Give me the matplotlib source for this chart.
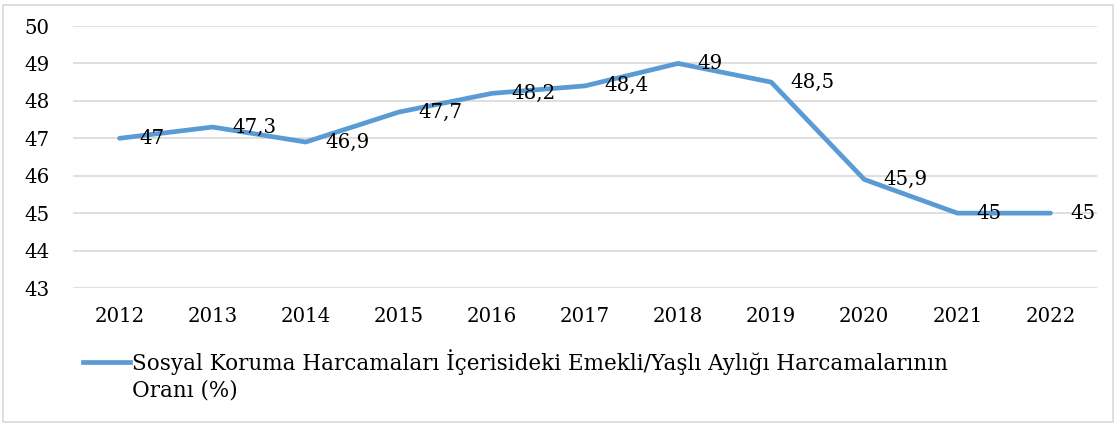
import matplotlib.pyplot as plt
from matplotlib.patches import Rectangle

# --- Data ---
YEARS = ["2012", "2013", "2014", "2015", "2016", "2017", "2018", "2019", "2020", "2021", "2022"]
VALUES = [47, 47.3, 46.9, 47.7, 48.2, 48.4, 49, 48.5, 45.9, 45, 45]
SERIES_NAME = ("Sosyal Koruma Harcamaları İçerisideki Emekli/Yaşlı Aylığı Harcamalarının\n"
               "Oranı (%)")

LINE_COLOR = "#5B9BD5"
FONT = "DejaVu Serif"
FS = 14.2

plt.rcParams["font.family"] = [FONT]

fig = plt.figure(figsize=(11.19, 4.26), dpi=100)
ax = fig.add_axes([73 / 1119, 1 - 288 / 426, (1097 - 73) / 1119, (288 - 26) / 426])

x = list(range(len(YEARS)))
ax.plot(x, VALUES, color=LINE_COLOR, lw=3.4, solid_capstyle="round",
        solid_joinstyle="round", zorder=3)

for xi, v in zip(x, VALUES):
    label = f"{v:g}".replace(".", ",")
    ax.annotate(label, (xi, v), xytext=(14, 0), textcoords="offset points",
                ha="left", va="center", fontsize=FS, color="#000000", zorder=4)

ax.set_xlim(-0.5, len(YEARS) - 0.5)
ax.set_ylim(43, 50)
ax.set_yticks(range(43, 51))
ax.set_xticks(x)
ax.set_xticklabels(YEARS)
ax.tick_params(axis="both", length=0, labelsize=FS, colors="#000000")
ax.tick_params(axis="y", pad=17)
ax.tick_params(axis="x", pad=14)
ax.grid(axis="y", color="#D9D9D9", lw=1.2)
ax.set_axisbelow(True)
for s in ax.spines.values():
    s.set_visible(False)

# legend line + text
fig.lines.append(plt.Line2D([83 / 1119, 130 / 1119], [1 - 362 / 426, 1 - 362 / 426],
                            color=LINE_COLOR, lw=3.4, transform=fig.transFigure))
fig.text(132 / 1119, 1 - 349 / 426, SERIES_NAME, ha="left", va="top",
         fontsize=15.5, linespacing=1.3)

# outer border
fig.patches.append(Rectangle((3 / 1119, 4 / 426), 1110 / 1119, 417 / 426,
                             fill=False, edgecolor="#D9D9D9", lw=1.2,
                             transform=fig.transFigure))

fig.savefig("out.png", dpi=100)
